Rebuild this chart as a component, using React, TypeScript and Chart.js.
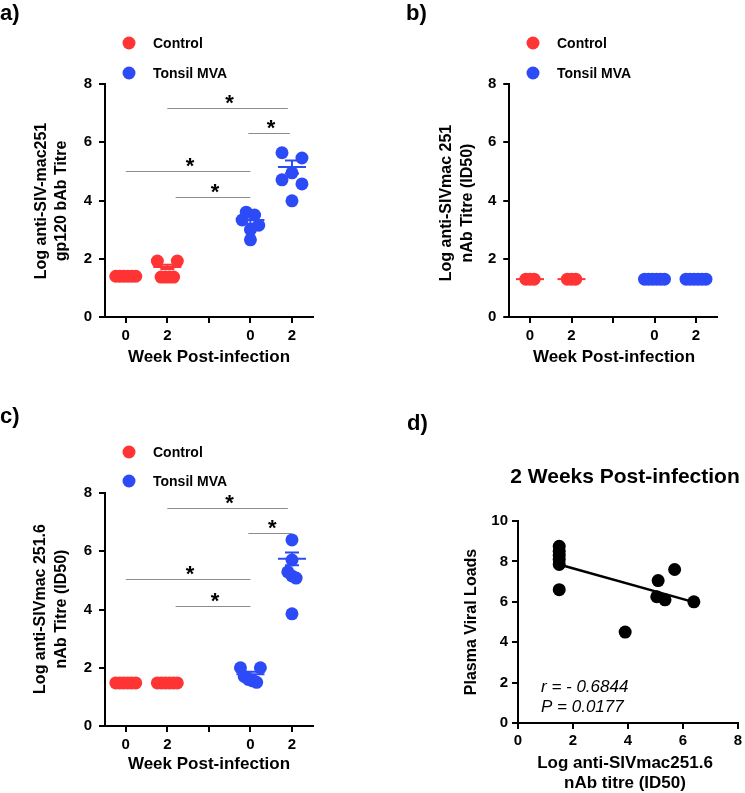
import React, { useEffect, useRef } from "react";
import { Chart, registerables } from "chart.js";
Chart.register(...registerables);

const FONT = "'Liberation Sans', Arial, Helvetica, sans-serif";
const RED = "#FF3434";
const BLUE = "#2C4BF6";
const GREY = "#8c8c8c";
const W = 745;
const H = 793;
const YW = 60; // y scale box width
const XH = 30; // x scale box height

// ---------- shared category axis ----------
const weekTicks = ["0", "2", "", "0", "2"];
const groupPos = [0, 1, 3, 4];
const groupNames = ["Control", "Tonsil MVA"];

// ---------- panel a: gp120 bAb ----------
const aCtrlWk0 = [1.4, 1.4, 1.4, 1.4, 1.4, 1.4];
const aCtrlWk2 = [1.92, 1.92, 1.37, 1.37, 1.37, 1.37];
const aMvaWk0 = [3.6, 3.5, 3.33, 3.15, 3.0, 2.65];
const aMvaWk2 = [5.64, 5.46, 4.95, 4.71, 4.57, 3.99];
const aMeans = [1.4, 1.72, 3.33, 5.15];
const aSems = [0, 0.07, 0.13, 0.22];
const aSigX1 = [1.0, 2.95, 0, 1.2];
const aSigX2 = [3.9, 3.95, 3.0, 3.0];
const aSigY = [7.18, 6.32, 5.02, 4.12];

// ---------- panel b: SIVmac251 nAb ----------
const bCtrlWk0 = [1.3, 1.3, 1.3];
const bCtrlWk2 = [1.3, 1.3, 1.3];
const bMvaWk0 = [1.3, 1.3, 1.3, 1.3, 1.3, 1.3];
const bMvaWk2 = [1.3, 1.3, 1.3, 1.3, 1.3, 1.3];
const bMeans = [1.3, 1.3, 1.3, 1.3];
const bSems = [0, 0, 0, 0];

// ---------- panel c: SIVmac251.6 nAb ----------
const cCtrlWk0 = [1.48, 1.48, 1.48, 1.48, 1.48, 1.48];
const cCtrlWk2 = [1.48, 1.48, 1.48, 1.48, 1.48, 1.48];
const cMvaWk0 = [2.0, 2.0, 1.7, 1.6, 1.55, 1.5];
const cMvaWk2 = [6.39, 5.7, 5.29, 5.15, 5.08, 3.85];
const cMeans = [1.48, 1.48, 1.78, 5.74];
const cSems = [0, 0, 0.08, 0.22];
const cSigX1 = [1.0, 2.95, 0, 1.2];
const cSigX2 = [3.9, 4.0, 3.0, 3.0];
const cSigY = [7.49, 6.63, 5.05, 4.12];

// ---------- panel d: correlation ----------
const dTitre = [1.5, 1.5, 1.5, 1.5, 1.5, 1.5, 3.9, 5.1, 5.7, 5.05, 5.35, 6.4];
const dViral = [8.75, 8.5, 8.3, 8.1, 7.85, 6.6, 4.5, 7.05, 7.6, 6.25, 6.1, 6.0];
const dStats = ["r = - 0.6844", "P = 0.0177"];

// spread points with similar values horizontally (Prism-like scatter)
function spreadGroup(values: number[], center: number) {
  const idx = values.map((_, i) => i).sort((a, b) => values[b] - values[a]);
  const out = values.map((v) => ({ x: center, y: v }));
  let i = 0;
  while (i < idx.length) {
    let j = i + 1;
    while (j < idx.length && values[idx[j - 1]] - values[idx[j]] < 0.2) j++;
    const n = j - i;
    if (n > 1) {
      const half = n === 2 ? 0.24 : Math.min(0.24, 0.05 * (n - 1));
      const order = values[idx[i]] === values[idx[j - 1]] ? null : [1, 3, 0, 4, 2, 5];
      for (let k = 0; k < n; k++) {
        const slot = order && n === 5 ? order[k] : k;
        out[idx[i + k]].x = center - half + (2 * half * slot) / (n - 1);
      }
    }
    i = j;
  }
  return out;
}

function linreg(xs: number[], ys: number[]) {
  const n = xs.length;
  const mx = xs.reduce((s, v) => s + v, 0) / n;
  const my = ys.reduce((s, v) => s + v, 0) / n;
  let sxy = 0, sxx = 0;
  for (let i = 0; i < n; i++) {
    sxy += (xs[i] - mx) * (ys[i] - my);
    sxx += (xs[i] - mx) * (xs[i] - mx);
  }
  const b = sxy / sxx;
  return { a: my - b * mx, b };
}

type Area = { left: number; top: number; right: number; bottom: number };
type TextItem = { text: string; x: number; y: number; font: string; align?: CanvasTextAlign; baseline?: CanvasTextBaseline; rotate?: boolean };

function drawTexts(ctx: CanvasRenderingContext2D, items: TextItem[]) {
  items.forEach((t) => {
    ctx.save();
    ctx.fillStyle = "#000";
    ctx.font = t.font;
    ctx.textAlign = t.align || "center";
    ctx.textBaseline = t.baseline || "middle";
    ctx.translate(t.x, t.y);
    if (t.rotate) ctx.rotate(-Math.PI / 2);
    ctx.fillText(t.text, 0, 0);
    ctx.restore();
  });
}

function drawLegend(ctx: CanvasRenderingContext2D, x: number, y: number, gap: number) {
  [RED, BLUE].forEach((c, i) => {
    ctx.save();
    ctx.fillStyle = c;
    ctx.beginPath();
    ctx.arc(x, y + i * gap, 6.5, 0, Math.PI * 2);
    ctx.fill();
    ctx.fillStyle = "#000";
    ctx.font = `bold 14px ${FONT}`;
    ctx.textAlign = "left";
    ctx.textBaseline = "middle";
    ctx.fillText(groupNames[i], x + 24, y + i * gap + 1);
    ctx.restore();
  });
}

function axisCommon(fontSize: number, tickPad: number) {
  return {
    grid: { drawOnChartArea: false, drawTicks: true, tickLength: 6, color: "#000", lineWidth: 2 },
    border: { color: "#000", width: 2 },
    ticks: { color: "#000", padding: tickPad, font: { family: FONT, size: fontSize, weight: "bold" as const } },
  };
}

function paddingFor(area: Area) {
  return { left: area.left - YW, top: area.top, right: W - area.right, bottom: H - area.bottom - XH };
}

interface DotPanel {
  groups: number[][];
  means: number[];
  sems: number[];
  sig?: { x1: number[]; x2: number[]; y: number[] };
  area: Area;
  label: TextItem;
  legend: [number, number, number];
  texts: TextItem[];
}

function dotConfig(p: DotPanel): any {
  const colors = [RED, RED, BLUE, BLUE];
  const datasets = p.groups.map((vals, gi) => ({
    type: "scatter",
    label: gi < 2 ? groupNames[0] : groupNames[1],
    data: spreadGroup(vals, groupPos[gi]),
    backgroundColor: colors[gi],
    borderWidth: 0,
    pointRadius: 6.5,
    pointHoverRadius: 6.5,
  }));
  const x = axisCommon(15, 4);
  const y = axisCommon(15, 7);
  const plugin = {
    id: "extras",
    afterDatasetsDraw(chart: any) {
      const ctx: CanvasRenderingContext2D = chart.ctx;
      const xs = chart.scales.x, ys = chart.scales.y;
      p.means.forEach((m, gi) => {
        const cx = xs.getPixelForValue(groupPos[gi]);
        const my = ys.getPixelForValue(m);
        const hi = ys.getPixelForValue(m + p.sems[gi]);
        const lo = ys.getPixelForValue(m - p.sems[gi]);
        ctx.save();
        ctx.strokeStyle = colors[gi];
        ctx.lineWidth = 2;
        ctx.beginPath();
        ctx.moveTo(cx - 14, my); ctx.lineTo(cx + 14, my);
        if (p.sems[gi] > 0) {
          ctx.moveTo(cx, hi); ctx.lineTo(cx, lo);
          ctx.moveTo(cx - 7, hi); ctx.lineTo(cx + 7, hi);
          ctx.moveTo(cx - 7, lo); ctx.lineTo(cx + 7, lo);
        }
        ctx.stroke();
        ctx.restore();
      });
    },
    afterDraw(chart: any) {
      const ctx: CanvasRenderingContext2D = chart.ctx;
      const xs = chart.scales.x, ys = chart.scales.y;
      if (p.sig) {
        p.sig.y.forEach((v, i) => {
          const x1 = xs.getPixelForValue(p.sig!.x1[i]);
          const x2 = xs.getPixelForValue(p.sig!.x2[i]);
          const yy = Math.round(ys.getPixelForValue(v)) + 0.5;
          ctx.save();
          ctx.strokeStyle = GREY;
          ctx.lineWidth = 1.2;
          ctx.beginPath();
          ctx.moveTo(x1, yy); ctx.lineTo(x2, yy);
          ctx.stroke();
          ctx.fillStyle = "#000";
          ctx.font = `bold 22px ${FONT}`;
          ctx.textAlign = "center";
          ctx.textBaseline = "alphabetic";
          ctx.fillText("*", (x1 + x2) / 2 + 2, yy + 1);
          ctx.restore();
        });
      }
      drawLegend(ctx, p.legend[0], p.legend[1], p.legend[2]);
      drawTexts(ctx, [p.label, ...p.texts]);
    },
  };
  return {
    data: { datasets },
    options: {
      responsive: false,
      animation: false,
      events: [],
      layout: { padding: paddingFor(p.area) },
      plugins: { legend: { display: false }, tooltip: { enabled: false }, title: { display: false } },
      scales: {
        x: {
          type: "linear",
          min: -0.5,
          max: 4.5,
          ...x,
          ticks: { ...x.ticks, autoSkip: false, maxRotation: 0, callback: (v: number) => weekTicks[Math.round(v)] ?? "" },
          afterBuildTicks: (s: any) => { s.ticks = [0, 1, 2, 3, 4].map((v) => ({ value: v })); },
          afterFit: (s: any) => { s.height = XH; },
        },
        y: {
          type: "linear",
          min: 0,
          max: 8,
          ...y,
          ticks: { ...y.ticks, stepSize: 2 },
          afterFit: (s: any) => { s.width = YW; },
        },
      },
    },
    plugins: [plugin],
  };
}

const bold = (s: number) => `bold ${s}px ${FONT}`;

const panelA: DotPanel = {
  groups: [aCtrlWk0, aCtrlWk2, aMvaWk0, aMvaWk2],
  means: aMeans,
  sems: aSems,
  sig: { x1: aSigX1, x2: aSigX2, y: aSigY },
  area: { left: 105, top: 84, right: 312.75, bottom: 317 },
  label: { text: "a)", x: 0, y: 20, font: bold(22), align: "left", baseline: "alphabetic" },
  legend: [129, 43, 30],
  texts: [
    { text: "Log anti-SIV-mac251", x: 42, y: 201, font: bold(16), rotate: true },
    { text: "gp120 bAb Titre", x: 62, y: 201, font: bold(16), rotate: true },
    { text: "Week Post-infection", x: 209, y: 357, font: bold(17) },
  ],
};

const panelB: DotPanel = {
  groups: [bCtrlWk0, bCtrlWk2, bMvaWk0, bMvaWk2],
  means: bMeans,
  sems: bSems,
  area: { left: 509.25, top: 84, right: 716.75, bottom: 317 },
  label: { text: "b)", x: 406, y: 20, font: bold(22), align: "left", baseline: "alphabetic" },
  legend: [533, 43, 30],
  texts: [
    { text: "Log anti-SIVmac 251", x: 447, y: 203, font: bold(16), rotate: true },
    { text: "nAb Titre (ID50)", x: 468, y: 203, font: bold(16), rotate: true },
    { text: "Week Post-infection", x: 614, y: 357, font: bold(17) },
  ],
};

const panelC: DotPanel = {
  groups: [cCtrlWk0, cCtrlWk2, cMvaWk0, cMvaWk2],
  means: cMeans,
  sems: cSems,
  sig: { x1: cSigX1, x2: cSigX2, y: cSigY },
  area: { left: 105, top: 493, right: 312.75, bottom: 726 },
  label: { text: "c)", x: 0, y: 423, font: bold(22), align: "left", baseline: "alphabetic" },
  legend: [129, 452, 29],
  texts: [
    { text: "Log anti-SIVmac 251.6", x: 41, y: 609, font: bold(16), rotate: true },
    { text: "nAb Titre (ID50)", x: 62, y: 609, font: bold(16), rotate: true },
    { text: "Week Post-infection", x: 209, y: 764, font: bold(17) },
  ],
};

function scatterConfig(): any {
  const fit = linreg(dTitre, dViral);
  const xmin = Math.min(...dTitre), xmax = Math.max(...dTitre);
  const x = axisCommon(15, 3);
  const y = axisCommon(15, 4);
  const area = { left: 518, top: 521, right: 741, bottom: 723 };
  const plugin = {
    id: "dextras",
    afterDraw(chart: any) {
      const ctx: CanvasRenderingContext2D = chart.ctx;
      drawTexts(ctx, [
        { text: "d)", x: 407, y: 430, font: bold(22), align: "left", baseline: "alphabetic" },
        { text: "2 Weeks Post-infection", x: 625, y: 477, font: bold(21) },
        { text: "Plasma Viral Loads", x: 472, y: 622, font: bold(16), rotate: true },
        { text: "Log anti-SIVmac251.6", x: 625, y: 763, font: bold(17) },
        { text: "nAb titre (ID50)", x: 625, y: 783, font: bold(17) },
        { text: dStats[0], x: 541, y: 687, font: `italic 17px ${FONT}`, align: "left" },
        { text: dStats[1], x: 541, y: 707, font: `italic 17px ${FONT}`, align: "left" },
      ]);
    },
  };
  return {
    data: {
      datasets: [
        {
          type: "scatter",
          data: dTitre.map((v, i) => ({ x: v, y: dViral[i] })),
          backgroundColor: "#000",
          borderWidth: 0,
          pointRadius: 6.5,
        },
        {
          type: "line",
          data: [xmin, xmax].map((v) => ({ x: v, y: fit.a + fit.b * v })),
          borderColor: "#000",
          borderWidth: 2.5,
          pointRadius: 0,
          fill: false,
        },
      ],
    },
    options: {
      responsive: false,
      animation: false,
      events: [],
      layout: { padding: paddingFor(area) },
      plugins: { legend: { display: false }, tooltip: { enabled: false } },
      scales: {
        x: { type: "linear", min: 0, max: 8, ...x, ticks: { ...x.ticks, stepSize: 2 }, afterFit: (s: any) => { s.height = XH; } },
        y: { type: "linear", min: 0, max: 10, ...y, ticks: { ...y.ticks, stepSize: 2 }, afterFit: (s: any) => { s.width = YW; } },
      },
    },
    plugins: [plugin],
  };
}

function Layer({ make }: { make: () => any }) {
  const ref = useRef<HTMLCanvasElement | null>(null);
  useEffect(() => {
    if (!ref.current) return;
    const chart = new Chart(ref.current, make());
    return () => chart.destroy();
  }, []);
  return (
    <canvas
      ref={ref}
      width={W}
      height={H}
      style={{ position: "absolute", left: 0, top: 0, width: W, height: H }}
    />
  );
}

export default function App() {
  return (
    <div style={{ position: "absolute", left: 0, top: 0, width: W, height: H, background: "#fff", overflow: "hidden" }}>
      <Layer make={() => dotConfig(panelA)} />
      <Layer make={() => dotConfig(panelB)} />
      <Layer make={() => dotConfig(panelC)} />
      <Layer make={scatterConfig} />
    </div>
  );
}
